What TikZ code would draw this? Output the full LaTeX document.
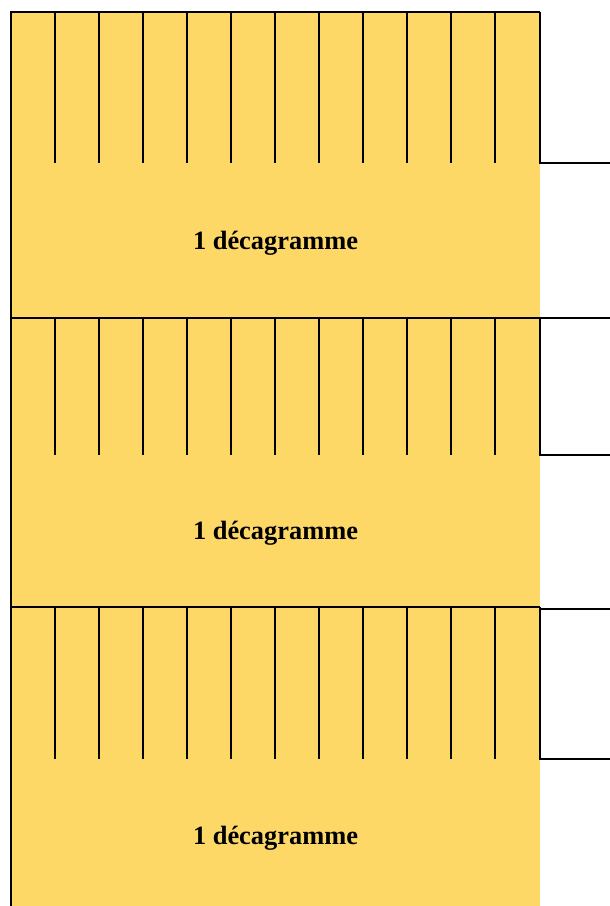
\documentclass[tikz,border=0pt]{standalone}
\usepackage{fontspec}
\setmainfont{Liberation Serif}
\definecolor{gold}{RGB}{253,216,102}
\begin{document}
\begin{tikzpicture}[x=1pt,y=-1pt,
  rule/.style={draw=black,line width=2pt},
  tick/.style={draw=black,line width=1.6pt},
  label/.style={font=\fontsize{26.4}{30}\selectfont\bfseries,inner sep=0pt,anchor=base}]
\useasboundingbox (0,0) rectangle (610,906);
\fill[gold] (11,12) rectangle (540,906);
% ticks in three graduated bands
\foreach \top/\bot in {12/163,318/455,607/759}{
  \foreach \k in {0,...,10}{
    \draw[tick] ({55+44*\k},\top) -- ({55+44*\k},\bot);
  }
  \draw[rule] (540,\top) -- (540,\bot) -- (610,\bot);
}
\draw[rule] (11,906) -- (11,12) -- (540,12);
\draw[rule] (11,318) -- (610,318);
\draw[rule] (11,607) -- (540,607);
\draw[rule] (540,609) -- (610,609);
\node[label] (d1) at (275.5,249.3) {1 décagramme};
\node[label] (d2) at (275.5,539.3) {1 décagramme};
\node[label] (d3) at (275.5,844.3) {1 décagramme};
\end{tikzpicture}
\end{document}
